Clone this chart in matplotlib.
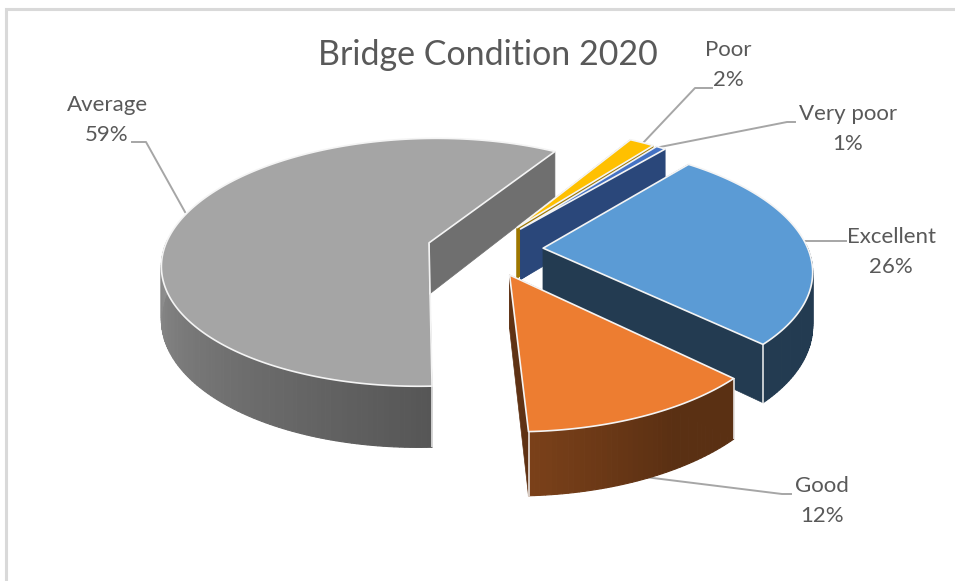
import numpy as np
import matplotlib
matplotlib.use("Agg")
import matplotlib.pyplot as plt
from matplotlib.patches import Polygon

# ---- data (clockwise from the pie's first-slice angle) ----
categories = ["Excellent", "Good", "Average", "Poor", "Very poor"]
shares = [26.2, 12.0, 59.3, 1.8, 0.7]
title = "Bridge Condition 2020"

top_colors = ["#5B9BD5", "#ED7D31", "#A5A5A5", "#FFC000", "#4472C4"]
side_shade = [0.38, 0.40, 0.67, 0.62, 0.62]
apex_seam = [False, False, True, False, False]
draw_order = [2, 3, 4, 0, 1]

# ---- pie view settings ----
first_angle = 40.0
explode = 0.22
CX, CY = 485.0, 249.5
SX, SY = 265.0, 123.0
K = 0.158
WALL = 52.0
GREY_TXT = "#595959"
LEADER = "#A6A6A6"
SEAM = "#F2F2F2"

plt.rcParams["font.family"] = ["Lato", "DejaVu Sans"]
fig = plt.figure(figsize=(9.55, 5.81), dpi=100, facecolor="white")
ax = fig.add_axes([0, 0, 1, 1])
ax.set_xlim(0, 955)
ax.set_ylim(581, 0)
ax.axis("off")


def project(X, Y, drop=0.0):
    w = 1 + K * Y
    return CX + SX * X / w, CY - SY * Y / w + drop / w


def shade(color, f):
    rgb = np.array(matplotlib.colors.to_rgb(color))
    return tuple(rgb * f)


def outer_factor(theta):
    t = np.mod(theta, 360)
    return np.interp(t, [90, 150, 180, 270, 360], [0.38, 0.38, 0.53, 0.86, 0.86])


ends = first_angle + np.cumsum(shares) * 3.6
starts = ends - np.array(shares) * 3.6


def draw_slice(i):
    a0, a1 = starts[i], ends[i]
    mid = np.radians((a0 + a1) / 2)
    x0, y0 = explode * np.sin(mid), explode * np.cos(mid)
    th = np.radians(np.linspace(a0, a1, max(int(a1 - a0) + 1, 6)))
    px, py = x0 + np.sin(th), y0 + np.cos(th)

    wall = shade(top_colors[i], side_shade[i])
    ax0, ay0 = project(np.array([x0]), np.array([y0]))
    bx0, by0 = project(np.array([x0]), np.array([y0]), WALL)
    # radial walls
    for px_e, py_e in [(px[0], py[0]), (px[-1], py[-1])]:
        xs = np.array([x0, px_e])
        ys = np.array([y0, py_e])
        tx, ty = project(xs, ys)
        bx, by = project(xs, ys, WALL)
        ax.add_patch(Polygon(np.c_[np.r_[tx, bx[::-1]], np.r_[ty, by[::-1]]],
                             closed=True, fc=wall, ec=wall, lw=0.5, joinstyle="round"))
    # curved outer wall: only the part that faces the viewer
    tx, ty = project(px, py)
    bx, by = project(px, py, WALL)
    for j in range(len(th) - 1):
        if np.cos((th[j] + th[j + 1]) / 2) > 0.03:
            continue
        f = outer_factor(np.degrees((th[j] + th[j + 1]) / 2))
        c = shade(top_colors[i], f)
        ax.add_patch(Polygon([(tx[j], ty[j]), (tx[j + 1], ty[j + 1]), (bx[j + 1], by[j + 1]), (bx[j], by[j])],
                             closed=True, fc=c, ec=c, lw=0.8))
    # light seams on the corners that face the viewer
    for e in (0, -1):
        if np.cos(th[e]) < 0:
            ax.plot([bx[e], tx[e]], [by[e], ty[e]], color=SEAM, lw=1.1, solid_capstyle="butt")
    if apex_seam[i]:
        ax.plot([bx0[0], ax0[0]], [by0[0], ay0[0]], color=SEAM, lw=0.6, solid_capstyle="butt")
    # top face
    ax.add_patch(Polygon(np.c_[np.r_[ax0, tx], np.r_[ay0, ty]], closed=True,
                         fc=top_colors[i], ec="#F4F4F4", lw=1.2, joinstyle="round"))


# frame
ax.plot([6, 6, 955], [581, 9, 9], color="#D9D9D9", lw=2.2, solid_joinstyle="miter")

# leader lines (behind the pie)
leaders = [
    [(805, 241), (846, 241)],
    [(645, 477), (782, 494), (791, 494)],
    [(185, 212), (146, 142), (132, 142)],
    [(643, 143), (695, 88), (712, 88)],
    [(660, 147), (787, 122), (795, 122)],
]
for pts in leaders:
    p = np.array(pts)
    ax.plot(p[:, 0], p[:, 1], color=LEADER, lw=1.4, zorder=0.5)

for i in draw_order:
    draw_slice(i)

# text
ax.text(488, 55, title, ha="center", va="center", fontsize=24.5, color=GREY_TXT)
label_pos = [(891, 252), (822, 501), (107, 120), (728, 65), (848, 129)]
for name, val, (lx, ly) in zip(categories, shares, label_pos):
    ax.text(lx, ly, f"{name}\n{val:.0f}%", ha="center", va="center", fontsize=16,
            color=GREY_TXT, linespacing=1.6)

fig.savefig("out.png", dpi=100)
